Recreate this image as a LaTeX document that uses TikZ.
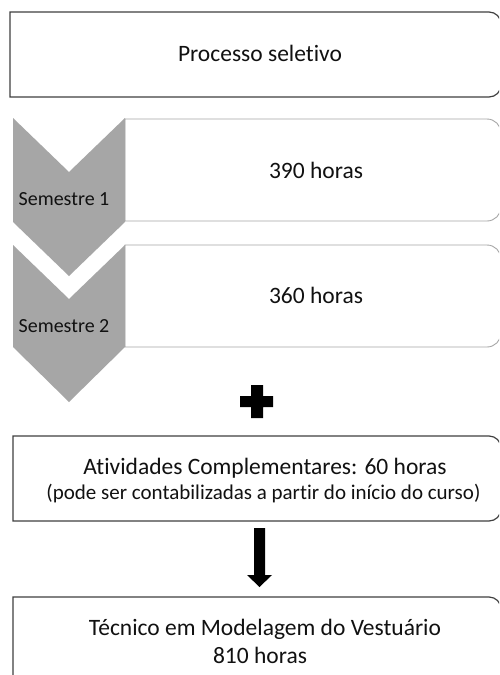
\documentclass[tikz,border=0pt]{standalone}
\usepackage{fontspec}
\setmainfont[Ligatures=NoCommon]{Carlito}
\definecolor{boxdark}{HTML}{404040}
\definecolor{boxlight}{HTML}{A6A6A6}
\definecolor{chevgray}{HTML}{A6A6A6}
\definecolor{txt}{HTML}{111111}
\begin{document}
\begin{tikzpicture}[x=1pt,y=-1pt,
  darkbox/.style={draw=boxdark, line width=1.2pt, fill=white},
  lightbox/.style={draw=boxlight, line width=0.9pt, fill=white},
  chev/.style={fill=chevgray, draw=none},
  blk/.style={fill=black, draw=none},
  lbl/.style={text=txt, inner sep=0pt, anchor=base, font=\fontsize{23.5}{28}\selectfont},
  semlbl/.style={lbl, font=\fontsize{20}{24}\selectfont},
  smalllbl/.style={lbl, font=\fontsize{21}{25}\selectfont}
]
\useasboundingbox (0,0) rectangle (499,675);
\clip (0,0) rectangle (499,675);
\fill[white] (0,0) rectangle (499,675);

% top box
\draw[darkbox] (10,12) -- (489,12) arc[start angle=-90,end angle=0,radius=12]
  -- (501,85) arc[start angle=0,end angle=90,radius=12] -- (10,97) -- cycle;
\node[lbl] (proc) at (260,61) {Processo seletivo};

% semester boxes
\draw[lightbox] (125,119) -- (487,119) arc[start angle=-90,end angle=0,radius=14]
  -- (501,207) arc[start angle=0,end angle=90,radius=14] -- (125,221) -- cycle;
\draw[lightbox] (125,245) -- (487,245) arc[start angle=-90,end angle=0,radius=14]
  -- (501,333) arc[start angle=0,end angle=90,radius=14] -- (125,347) -- cycle;

% chevrons
\fill[chev] (13,118) -- (69,172) -- (125,118) -- (125,222) -- (69,276) -- (13,222) -- cycle;
\fill[chev] (13,245) -- (69,299) -- (125,245) -- (125,347) -- (69,402) -- (13,347) -- cycle;

\node[semlbl] (sem1) at (64,205) {Semestre 1};
\node[semlbl] (sem2) at (64,332) {Semestre 2};
\node[lbl] (h1) at (316,178) {390 horas};
\node[lbl] (h2) at (316,303) {360 horas};

% plus sign
\fill[blk] (251,385) -- (263,385) -- (263,396) -- (273,396) -- (273,407) -- (263,407)
  -- (263,418) -- (251,418) -- (251,407) -- (240,407) -- (240,396) -- (251,396) -- cycle;

% activities box
\draw[darkbox] (13,436) -- (489,436) arc[start angle=-90,end angle=0,radius=12]
  -- (501,509) arc[start angle=0,end angle=90,radius=12] -- (13,521) -- cycle;
\node[lbl] (act) at (265,474) {Atividades Complementares: 60 horas};
\node[smalllbl] (act2) at (263.5,499) {(pode ser contabilizadas a partir do início do curso)};

% arrow
\fill[blk] (254,528) -- (265,528) -- (265,575) -- (272,575) -- (259.5,587) -- (247,575)
  -- (254,575) -- cycle;

% final box
\draw[darkbox] (13,720) -- (13,597) -- (489,597) arc[start angle=-90,end angle=0,radius=12]
  -- (501,720);
\node[lbl] (tec) at (265,635) {Técnico em Modelagem do Vestuário};
\node[lbl] (tot) at (260,663) {810 horas};
\end{tikzpicture}
\end{document}
